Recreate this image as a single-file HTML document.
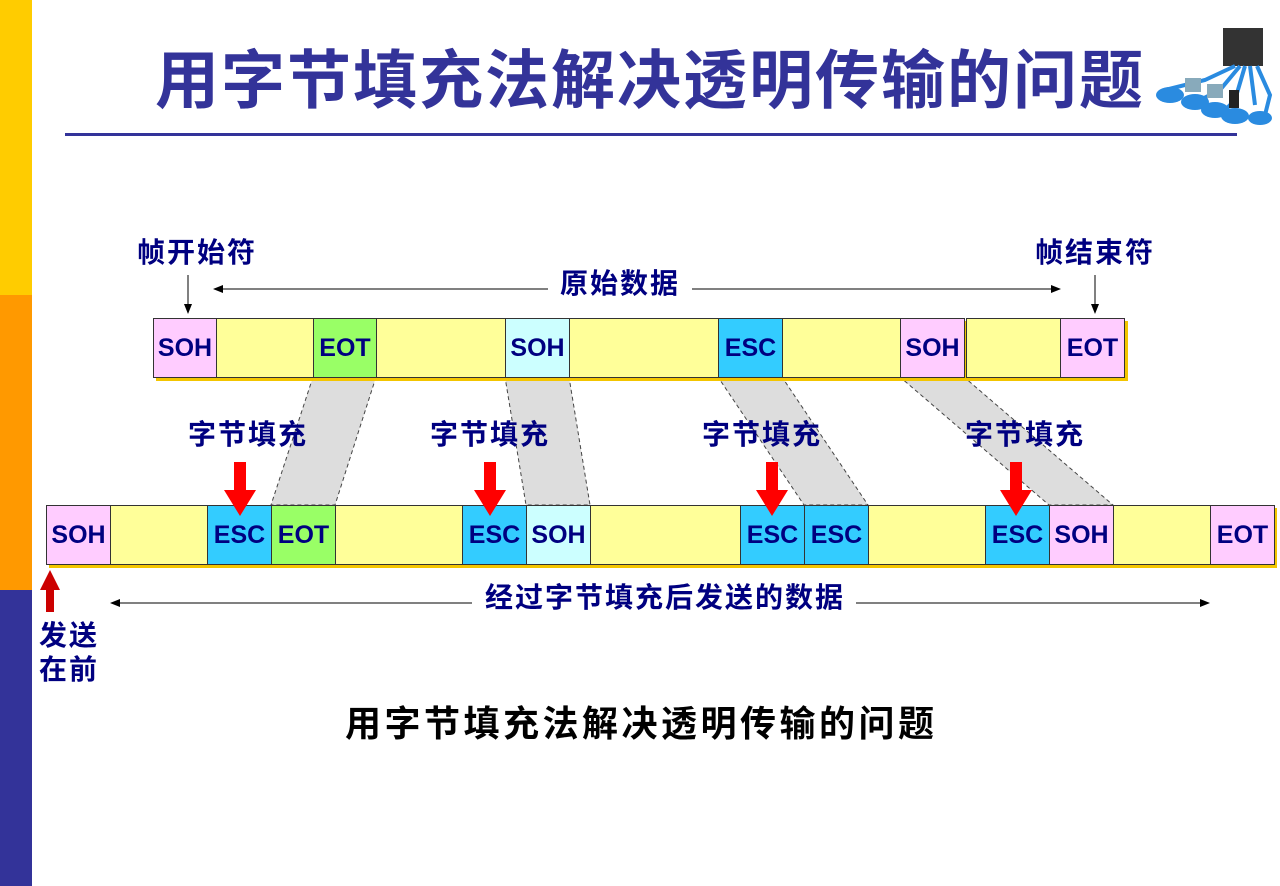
<!DOCTYPE html>
<html><head><meta charset="utf-8">
<style>
body{margin:0;width:1280px;height:886px;overflow:hidden;background:#fff;position:relative;font-family:"Liberation Sans","Noto Sans CJK SC",sans-serif;}
.a{position:absolute;}
.c{position:absolute;box-sizing:border-box;border:1px solid #333;font-weight:bold;font-size:25px;color:#000080;display:flex;align-items:center;justify-content:center;font-family:"Liberation Sans",sans-serif;}
.row{position:absolute;background:#f3c500;}
.y{background:#ffff99}.p{background:#ffccff}.g{background:#99ff66}.lc{background:#ccffff}.b{background:#33ccff}
.lbl{position:absolute;font-weight:bold;font-size:28px;letter-spacing:2px;color:#000080;white-space:nowrap;line-height:1;}
</style></head><body>
<div class="a" style="left:0;top:0;width:32px;height:295px;background:#ffcc00"></div>
<div class="a" style="left:0;top:295px;width:32px;height:295px;background:#ff9900"></div>
<div class="a" style="left:0;top:590px;width:32px;height:296px;background:#333399"></div>
<div class="a" style="left:155px;top:49px;font-size:64px;font-weight:bold;color:#333399;line-height:1;letter-spacing:2px;white-space:nowrap">用字节填充法解决透明传输的问题</div>
<div class="a" style="left:65px;top:133px;width:1172px;height:3px;background:#333399"></div>
<!-- icon -->
<svg class="a" style="left:1145px;top:20px" width="135" height="110">
<rect x="78" y="8" width="40" height="38" fill="#333"/>
<g stroke="#2a8be0" stroke-width="4" fill="none"><path d="M90 46 L60 60 L20 70"/><path d="M95 46 L75 70 L55 80"/><path d="M100 46 L90 80 L80 90"/><path d="M105 46 L110 85"/><path d="M112 46 L125 75 L120 95"/></g>
<ellipse cx="25" cy="75" rx="14" ry="8" fill="#2a8be0"/><ellipse cx="50" cy="82" rx="14" ry="8" fill="#2a8be0"/><ellipse cx="70" cy="90" rx="14" ry="8" fill="#2a8be0"/><ellipse cx="90" cy="96" rx="14" ry="8" fill="#2a8be0"/><ellipse cx="115" cy="98" rx="12" ry="7" fill="#2a8be0"/>
<rect x="40" y="58" width="16" height="14" fill="#8ab"/><rect x="62" y="64" width="16" height="14" fill="#8ab"/><rect x="84" y="70" width="10" height="18" fill="#222"/>
</svg>
<!-- labels top -->
<div class="lbl" style="left:137px;top:239px">帧开始符</div>
<div class="lbl" style="left:1035px;top:239px">帧结束符</div>
<div class="lbl" style="left:560px;top:270px">原始数据</div>
<svg class="a" style="left:0;top:0;pointer-events:none" width="1280" height="886">
<defs><marker id="ah" markerWidth="10" markerHeight="8" refX="9" refY="4" orient="auto"><path d="M0 0 L10 4 L0 8z" fill="#000"/></marker></defs>
<line x1="548" y1="289" x2="214" y2="289" stroke="#000" marker-end="url(#ah)"/>
<line x1="692" y1="289" x2="1060" y2="289" stroke="#000" marker-end="url(#ah)"/>
<line x1="188" y1="275" x2="188" y2="313" stroke="#000" marker-end="url(#ah)"/>
<line x1="1095" y1="275" x2="1095" y2="313" stroke="#000" marker-end="url(#ah)"/>
<line x1="472" y1="603" x2="111" y2="603" stroke="#000" marker-end="url(#ah)"/>
<line x1="856" y1="603" x2="1209" y2="603" stroke="#000" marker-end="url(#ah)"/>
<g fill="#ddd" stroke="#444" stroke-dasharray="4,3" stroke-width="1">
<polygon points="313,377 376,377 335,505 271,505"/>
<polygon points="505,377 569,377 590,505 526,505"/>
<polygon points="718,377 782,377 868,505 804,505"/>
<polygon points="900,377 964,377 1113,505 1049,505"/>
</g>
<polygon points="50,570 60,590 54,590 54,612 46,612 46,590 40,590" fill="#cc0000"/>
</svg>
<!-- top row -->
<div class="row" style="left:156px;top:321px;width:972px;height:60px"></div>
<div class="c p" style="left:153px;top:318px;width:64px;height:60px">SOH</div>
<div class="c y" style="left:216px;top:318px;width:98px;height:60px"></div>
<div class="c g" style="left:313px;top:318px;width:64px;height:60px">EOT</div>
<div class="c y" style="left:376px;top:318px;width:130px;height:60px"></div>
<div class="c lc" style="left:505px;top:318px;width:65px;height:60px">SOH</div>
<div class="c y" style="left:569px;top:318px;width:150px;height:60px"></div>
<div class="c b" style="left:718px;top:318px;width:65px;height:60px">ESC</div>
<div class="c y" style="left:782px;top:318px;width:119px;height:60px"></div>
<div class="c p" style="left:900px;top:318px;width:65px;height:60px">SOH</div>
<div class="c y" style="left:966px;top:318px;width:95px;height:60px"></div>
<div class="c p" style="left:1060px;top:318px;width:65px;height:60px">EOT</div>
<!-- labels mid -->
<div class="lbl" style="left:188px;top:421px">字节填充</div>
<div class="lbl" style="left:430px;top:421px">字节填充</div>
<div class="lbl" style="left:702px;top:421px">字节填充</div>
<div class="lbl" style="left:965px;top:421px">字节填充</div>
<!-- bottom row -->
<div class="row" style="left:49px;top:508px;width:1228px;height:60px"></div>
<div class="c p" style="left:46px;top:505px;width:65px;height:60px">SOH</div>
<div class="c y" style="left:110px;top:505px;width:98px;height:60px"></div>
<div class="c b" style="left:207px;top:505px;width:65px;height:60px">ESC</div>
<div class="c g" style="left:271px;top:505px;width:65px;height:60px">EOT</div>
<div class="c y" style="left:335px;top:505px;width:128px;height:60px"></div>
<div class="c b" style="left:462px;top:505px;width:65px;height:60px">ESC</div>
<div class="c lc" style="left:526px;top:505px;width:65px;height:60px">SOH</div>
<div class="c y" style="left:590px;top:505px;width:151px;height:60px"></div>
<div class="c b" style="left:740px;top:505px;width:65px;height:60px">ESC</div>
<div class="c b" style="left:804px;top:505px;width:65px;height:60px">ESC</div>
<div class="c y" style="left:868px;top:505px;width:118px;height:60px"></div>
<div class="c b" style="left:985px;top:505px;width:65px;height:60px">ESC</div>
<div class="c p" style="left:1049px;top:505px;width:65px;height:60px">SOH</div>
<div class="c y" style="left:1113px;top:505px;width:98px;height:60px"></div>
<div class="c p" style="left:1210px;top:505px;width:65px;height:60px">EOT</div>
<svg class="a" style="left:0;top:0;pointer-events:none" width="1280" height="886">
<g fill="#ff0000">
<polygon points="234,462 246,462 246,490 256,490 240,516 224,490 234,490"/>
<polygon points="484,462 496,462 496,490 506,490 490,516 474,490 484,490"/>
<polygon points="766,462 778,462 778,490 788,490 772,516 756,490 766,490"/>
<polygon points="1010,462 1022,462 1022,490 1032,490 1016,516 1000,490 1010,490"/>
</g>
</svg>
<div class="lbl" style="left:485px;top:584px">经过字节填充后发送的数据</div>
<div class="lbl" style="left:39px;top:619px;line-height:34px">发送<br>在前</div>
<div class="a" style="left:345px;top:706px;font-size:36px;letter-spacing:3.5px;font-weight:bold;color:#000;white-space:nowrap;line-height:1">用字节填充法解决透明传输的问题</div>
</body></html>
